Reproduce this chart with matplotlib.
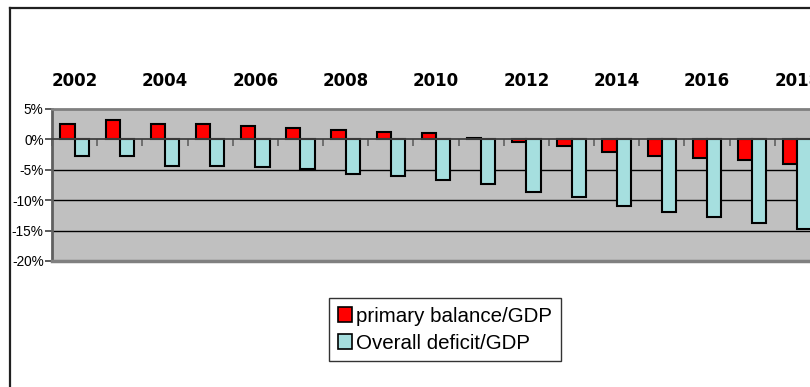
import matplotlib
matplotlib.use("Agg")
import matplotlib.pyplot as plt
from matplotlib.lines import Line2D
from matplotlib.patches import Patch
import numpy as np

plt.rcParams['font.family'] = ['Liberation Sans', 'DejaVu Sans']

years = [2002, 2003, 2004, 2005, 2006, 2007, 2008, 2009, 2010,
         2011, 2012, 2013, 2014, 2015, 2016, 2017, 2018]
primary_balance = [2.6, 3.2, 2.6, 2.6, 2.2, 1.9, 1.6, 1.25, 1.0,
                   0.3, -0.4, -1.05, -2.0, -2.7, -3.1, -3.35, -4.0]
overall_deficit = [-2.7, -2.7, -4.3, -4.3, -4.6, -4.9, -5.7, -6.0, -6.6,
                   -7.3, -8.6, -9.5, -10.9, -11.9, -12.8, -13.8, -14.8]
y_ticks = [5, 0, -5, -10, -15, -20]
series_names = ["primary balance/GDP", "Overall deficit/GDP"]

W, H = 810, 387
fig = plt.figure(figsize=(W / 100, H / 100), dpi=100)

# plot area in pixel units, converted to figure fractions
left_px, right_px, top_px, bottom_px = 52, 820, 109, 261
ax = fig.add_axes([left_px / W, 1 - bottom_px / H,
                   (right_px - left_px) / W, (bottom_px - top_px) / H])
ax.set_facecolor('#C0C0C0')

x = np.arange(len(years))
bw = 0.315
red = '#FF0000'
cyan = '#A6DFDF'
ax.bar(x - bw / 2, primary_balance, width=bw, color=red,
       edgecolor='black', linewidth=1.5, zorder=3)
ax.bar(x + bw / 2, overall_deficit, width=bw, color=cyan,
       edgecolor='black', linewidth=1.5, zorder=3)

ax.set_xlim(-0.5, len(years) - 0.5)
ax.set_ylim(-20, 5)

# horizontal gridlines
for v in [-5, -10, -15]:
    ax.axhline(v, color='black', linewidth=1.0, zorder=1)

# y axis
ax.set_yticks(y_ticks)
ax.set_yticklabels([f"{v}%" for v in y_ticks], fontsize=9.8)
ax.tick_params(axis='y', direction='out', length=5, width=1.2,
               color='#404040', pad=1)

# category axis sits on the zero line, ticks between categories
ax.spines['bottom'].set_position(('data', 0))
ax.spines['bottom'].set_color('#404040')
ax.spines['bottom'].set_linewidth(1.3)
ax.spines['bottom'].set_zorder(4)
ax.set_xticks(np.arange(len(years) + 1) - 0.5)
ax.tick_params(axis='x', direction='out', length=5, width=1.2,
               color='#606060', labelbottom=False)

# plot-area border
for s in ['top', 'right']:
    ax.spines[s].set_color('#808080')
    ax.spines[s].set_linewidth(2.0)
ax.spines['left'].set_color('#606060')
ax.spines['left'].set_linewidth(2.0)
ax.add_line(Line2D([0, 1], [0, 0], transform=ax.transAxes,
                   color='#808080', linewidth=2.5, clip_on=False, zorder=5))

# year labels above the plot
top_axis = ax.secondary_xaxis('top')
top_axis.set_xticks(x[::2])
top_axis.set_xticklabels([str(y) for y in years[::2]],
                         fontsize=12, fontweight='bold',
                         family=['DejaVu Sans'])
top_axis.tick_params(length=0, pad=13.5)
top_axis.spines['top'].set_visible(False)

# legend
handles = [Patch(facecolor=red, edgecolor='black', linewidth=1.2),
           Patch(facecolor=cyan, edgecolor='black', linewidth=1.2)]
leg = fig.legend(handles, series_names, loc='upper left',
                 bbox_to_anchor=(329 / W, 1 - 298 / H),
                 fontsize=14.8, frameon=True, fancybox=False,
                 edgecolor='black', borderaxespad=0,
                 handlelength=0.7, handleheight=0.7, handletextpad=0.2,
                 borderpad=0.42, labelspacing=0.4)
leg.get_frame().set_linewidth(1.0)

# chart-area border
fig.add_artist(Line2D([9.5 / W, 9.5 / W], [0, 1 - 8 / H],
                      transform=fig.transFigure, color='#202020', linewidth=1.6))
fig.add_artist(Line2D([9.5 / W, 1], [1 - 8 / H, 1 - 8 / H],
                      transform=fig.transFigure, color='#202020', linewidth=1.6))

fig.savefig('out.png', dpi=100, facecolor='white')
